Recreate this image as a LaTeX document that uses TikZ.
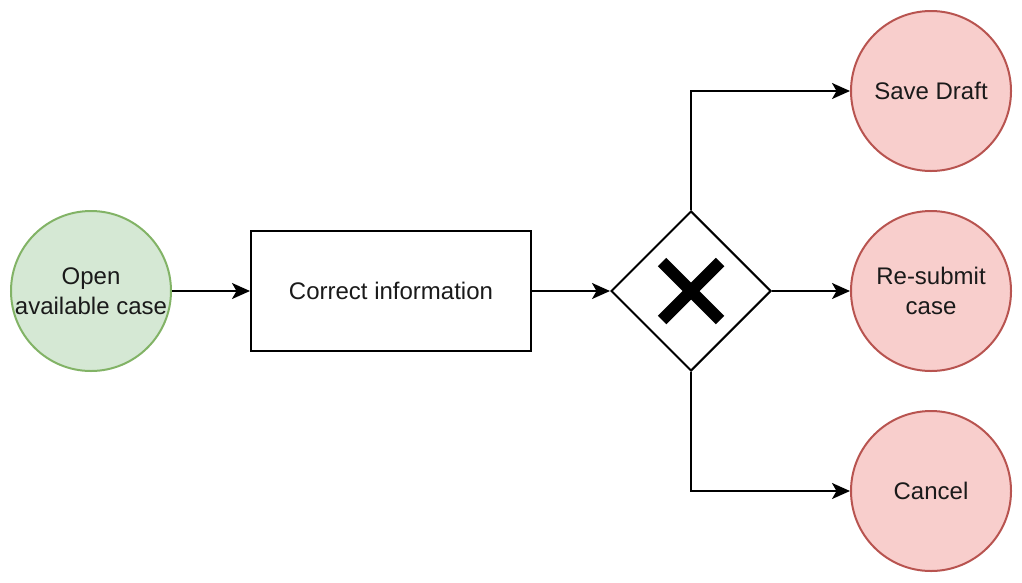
\documentclass[tikz,border=0pt]{standalone}
\usepackage{fontspec}
\setmainfont{Liberation Sans}
\usetikzlibrary{arrows.meta,shapes.geometric}
\definecolor{gfill}{HTML}{D5E8D4}
\definecolor{gline}{HTML}{82B366}
\definecolor{rfill}{HTML}{F8CECC}
\definecolor{rline}{HTML}{B85450}
\definecolor{txt}{HTML}{1A1A1A}
\tikzset{
  lbl/.style={text=txt,font=\fontsize{24pt}{30pt}\selectfont,align=center,inner sep=0pt},
  startev/.style={circle,draw=gline,fill=gfill,line width=2pt,minimum size=160pt,lbl},
  endev/.style={circle,draw=rline,fill=rfill,line width=2pt,minimum size=160pt,lbl},
  taskbox/.style={rectangle,draw=black,fill=white,line width=2pt,minimum width=280pt,minimum height=120pt,lbl},
  gate/.style={diamond,draw=black,fill=white,line width=2pt,minimum width=160pt,minimum height=160pt,inner sep=0pt,aspect=1},
  conn/.style={draw=black,line width=2pt,-{Stealth[length=18pt,width=16pt,inset=4.5pt]}}
}
\begin{document}
\begin{tikzpicture}[x=1pt,y=-1pt]
\useasboundingbox (0,0) rectangle (1022,582);
\node[startev] (open) at (91,291) {Open\\available case};
\node[taskbox] (corr) at (391,291) {Correct information};
\node[gate] (gw) at (691,291) {};
\node[endev] (save) at (931,91) {Save Draft};
\node[endev] (resub) at (931,291) {Re-submit\\case};
\node[endev] (cancel) at (931,491) {Cancel};
\draw[line width=12pt,line cap=butt] ([shift={(-29,-29)}]gw.center) -- ([shift={(29,29)}]gw.center);
\draw[line width=12pt,line cap=butt] ([shift={(29,-29)}]gw.center) -- ([shift={(-29,29)}]gw.center);
\draw[conn] (open) -- (corr);
\draw[conn] (corr) -- (gw.west);
\draw[conn] (gw.east) -- (resub);
\draw[conn] (gw.north) |- (save.west);
\draw[conn] (gw.south) |- (cancel.west);
\end{tikzpicture}
\end{document}
